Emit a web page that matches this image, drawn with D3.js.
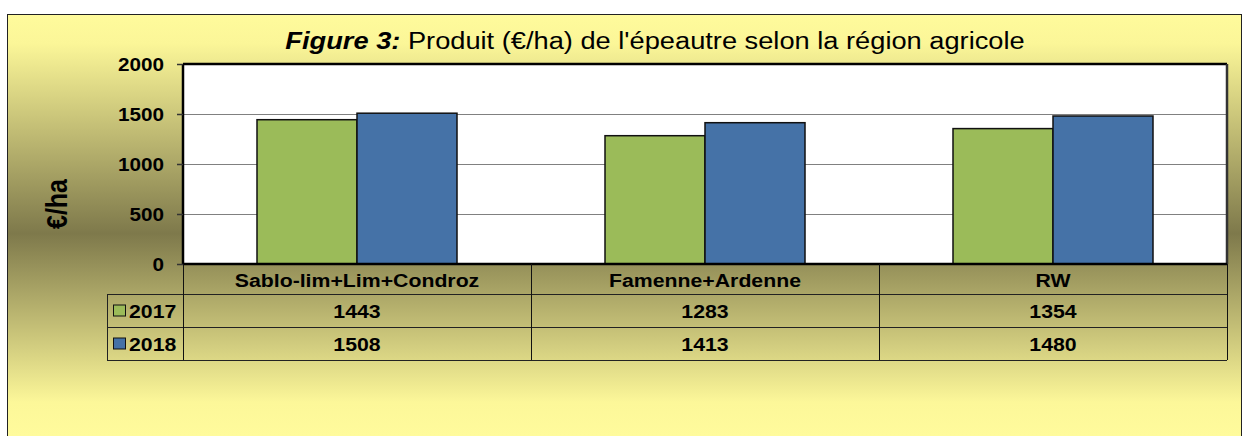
<!DOCTYPE html>
<html>
<head>
<meta charset="utf-8">
<script src="https://cdn.jsdelivr.net/npm/d3@7"></script>
<style>
  body { margin: 0; background: #fff; }
  text { font-family: "Liberation Sans", Arial, sans-serif; }
</style>
</head>
<body>
<svg></svg>
<script>
// chart data
const categories = ["Sablo-lim+Lim+Condroz", "Famenne+Ardenne", "RW"];
const years = ["2017", "2018"];
const values2017 = [1443, 1283, 1354];
const values2018 = [1508, 1413, 1480];
const yTicks = [0, 500, 1000, 1500, 2000];
const colors = ["#9bbb59", "#4572a7"];

const width = 1242,
    height = 436;
const sx = 1.15; // the original text is a bit wider than tall

const series = [values2017, values2018];

const svg = d3.select("svg")
    .attr("width", width)
    .attr("height", height);

// background gradient: yellow -> olive -> yellow
const grad = svg.append("defs").append("linearGradient")
    .attr("id", "bg")
    .attr("gradientUnits", "userSpaceOnUse")
    .attr("x1", 0).attr("y1", 14)
    .attr("x2", 0).attr("y2", 436);
grad.append("stop").attr("offset", "0%").attr("stop-color", "#fffb9c");
grad.append("stop").attr("offset", "7%").attr("stop-color", "#fbf698");
grad.append("stop").attr("offset", "52%").attr("stop-color", "#7e794b");
grad.append("stop").attr("offset", "92%").attr("stop-color", "#fcf799");
grad.append("stop").attr("offset", "100%").attr("stop-color", "#fffb9c");

svg.append("rect")
    .attr("x", 7.5).attr("y", 14.5)
    .attr("width", 1234).attr("height", 430)
    .attr("fill", "url(#bg)")
    .attr("stroke", "#222")
    .attr("stroke-width", 1);

// plot area
const plotLeft = 183, plotRight = 1227, plotTop = 64, plotBottom = 264;

const x0 = d3.scaleBand()
    .domain(categories)
    .range([plotLeft, plotRight]);

const x1 = d3.scaleBand()
    .domain(years)
    .range([0, x0.bandwidth()])
    .paddingInner(0)
    .paddingOuter(0.74);

const y = d3.scaleLinear()
    .domain([0, 2000])
    .range([plotBottom, plotTop]);

svg.append("rect")
    .attr("x", plotLeft).attr("y", plotTop)
    .attr("width", plotRight - plotLeft).attr("height", plotBottom - plotTop)
    .attr("fill", "#fff");

// gridlines
svg.append("g")
    .selectAll("line")
    .data(yTicks.filter(d => d > 0 && d < 2000))
    .enter()
    .append("line")
    .attr("x1", plotLeft).attr("x2", plotRight)
    .attr("y1", d => y(d) + 0.5).attr("y2", d => y(d) + 0.5)
    .attr("stroke", "#808080")
    .attr("stroke-width", 1);

// bars
const groups = svg.append("g")
    .selectAll("g")
    .data(categories)
    .enter()
    .append("g")
    .attr("transform", d => `translate(${x0(d)},0)`);

groups.selectAll("rect")
    .data((d, i) => years.map((yr, j) => ({ year: yr, value: series[j][i], j: j })))
    .enter()
    .append("rect")
    .attr("x", d => x1(d.year))
    .attr("y", d => y(d.value))
    .attr("width", x1.bandwidth())
    .attr("height", d => plotBottom - y(d.value))
    .attr("fill", d => colors[d.j])
    .attr("stroke", "#111")
    .attr("stroke-width", 1.5);

// plot frame
svg.append("line")
    .attr("x1", plotLeft).attr("x2", plotRight)
    .attr("y1", plotTop).attr("y2", plotTop)
    .attr("stroke", "#000").attr("stroke-width", 2.5);
svg.append("line")
    .attr("x1", plotRight).attr("x2", plotRight)
    .attr("y1", plotTop).attr("y2", plotBottom)
    .attr("stroke", "#333").attr("stroke-width", 2.5);
svg.append("line")
    .attr("x1", plotLeft).attr("x2", plotLeft)
    .attr("y1", plotTop).attr("y2", plotBottom)
    .attr("stroke", "#000").attr("stroke-width", 2.5);

// y axis
const yAxis = svg.append("g")
    .attr("transform", `translate(${plotLeft},0)`)
    .call(d3.axisLeft(y).tickValues(yTicks).tickSize(6).tickFormat(d3.format("d")));
yAxis.select(".domain").remove();
yAxis.selectAll(".tick line").attr("stroke", "#333").attr("stroke-width", 1.5);
yAxis.selectAll(".tick text")
    .attr("x", 0)
    .attr("dy", null)
    .attr("transform", `translate(-19,6.5) scale(${sx},1)`)
    .attr("fill", "#000")
    .style("font-size", "18px")
    .style("font-weight", "bold")
    .style("font-family", "'Liberation Sans', Arial, sans-serif");

// y axis title
svg.append("text")
    .attr("transform", `translate(67,204) scale(${sx},1) rotate(-90)`)
    .attr("text-anchor", "middle")
    .style("font-size", "25px")
    .style("font-weight", "bold")
    .text("€/ha");

// title
const title = svg.append("text")
    .attr("transform", `translate(655,49) scale(${sx},1)`)
    .attr("text-anchor", "middle")
    .style("font-size", "23.7px");
title.append("tspan")
    .style("font-weight", "bold")
    .style("font-style", "italic")
    .text("Figure 3:");
title.append("tspan")
    .text(" Produit (€/ha) de l'épeautre selon la région agricole");

// data table
const rowY = [264, 294, 327, 360];
const legendLeft = 107;
const table = svg.append("g");

// horizontal lines
table.append("line")
    .attr("x1", plotLeft).attr("x2", plotRight)
    .attr("y1", rowY[0]).attr("y2", rowY[0])
    .attr("stroke", "#000").attr("stroke-width", 2.5);
rowY.slice(1).forEach(ry => {
    table.append("line")
        .attr("x1", legendLeft).attr("x2", plotRight)
        .attr("y1", ry + 0.5).attr("y2", ry + 0.5)
        .attr("stroke", "#222").attr("stroke-width", 1);
});
// vertical lines
table.append("line")
    .attr("x1", legendLeft + 0.5).attr("x2", legendLeft + 0.5)
    .attr("y1", rowY[1]).attr("y2", rowY[3])
    .attr("stroke", "#222").attr("stroke-width", 1);
[plotLeft, x0(categories[1]), x0(categories[2]), plotRight].forEach(vx => {
    table.append("line")
        .attr("x1", vx + 0.5).attr("x2", vx + 0.5)
        .attr("y1", rowY[0]).attr("y2", rowY[3])
        .attr("stroke", "#111").attr("stroke-width", 1);
});

// category header
table.selectAll(".cat")
    .data(categories)
    .enter()
    .append("text")
    .attr("class", "cat")
    .attr("transform", d => `translate(${x0(d) + x0.bandwidth() / 2},${rowY[0] + 23}) scale(${sx},1)`)
    .attr("text-anchor", "middle")
    .style("font-size", "18.5px")
    .style("font-weight", "bold")
    .text(d => d);

// value rows
years.forEach((yr, j) => {
    const cy = (rowY[j + 1] + rowY[j + 2]) / 2;
    table.append("rect")
        .attr("x", 113.5).attr("y", cy - 5.5)
        .attr("width", 12).attr("height", 11)
        .attr("fill", colors[j])
        .attr("stroke", "#111").attr("stroke-width", 1);
    table.append("text")
        .attr("transform", `translate(129,${cy + 7}) scale(${sx},1)`)
        .style("font-size", "18.5px")
        .style("font-weight", "bold")
        .text(yr);
    table.selectAll(".v" + yr)
        .data(series[j])
        .enter()
        .append("text")
        .attr("class", "v" + yr)
        .attr("transform", (d, i) => `translate(${x0(categories[i]) + x0.bandwidth() / 2},${cy + 7}) scale(${sx},1)`)
        .attr("text-anchor", "middle")
        .style("font-size", "18.5px")
        .style("font-weight", "bold")
        .text(d => d);
});
</script>
</body>
</html>
